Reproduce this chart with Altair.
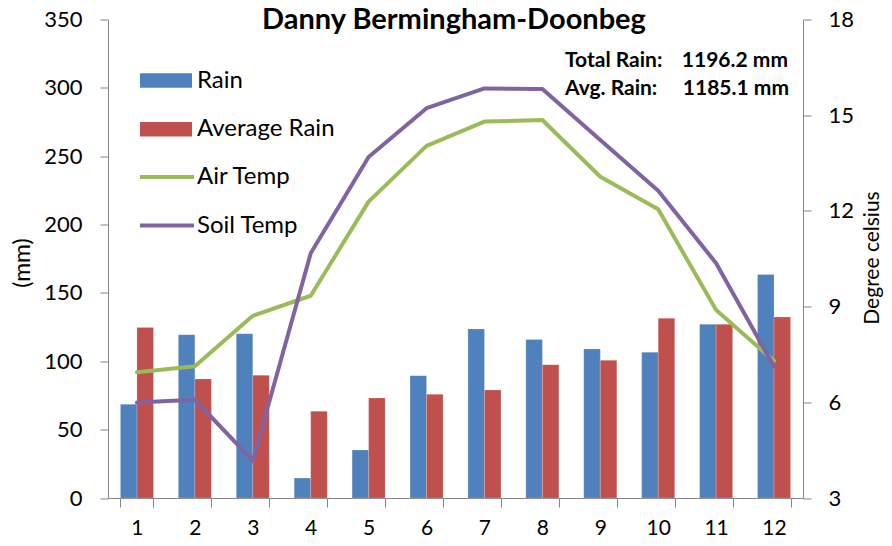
import altair as alt
import pandas as pd

months = list(range(1, 13))
rain = [68.5, 119.5, 120.2, 14.6, 35.1, 89.5, 123.6, 116.0, 109.0, 106.6, 127.0, 163.4]
avg_rain = [124.8, 87.0, 89.7, 63.4, 73.2, 75.8, 79.0, 97.5, 100.7, 131.4, 127.0, 132.4]
air_temp = [6.94, 7.13, 8.71, 9.34, 12.29, 14.04, 14.8, 14.85, 13.07, 12.05, 8.89, 7.3]
soil_temp = [5.99, 6.08, 4.17, 10.67, 13.69, 15.22, 15.84, 15.82, 14.22, 12.63, 10.36, 7.12]

bar_series = ["Rain", "Average Rain"]
bar_colors = ["#4F81BD", "#C0504D"]
line_series = ["Air Temp", "Soil Temp"]
line_colors = ["#9BBB59", "#8064A2"]

title_text = "Danny Bermingham-Doonbeg"
total_label, total_value = "Total Rain:", "1196.2 mm"
avg_label, avg_value = "Avg. Rain:", "1185.1 mm"

FONT = "Lato"
AX = "#868686"

bars_df = pd.DataFrame({
    "month": months * 2,
    "series": ["Rain"] * 12 + ["Average Rain"] * 12,
    "value": rain + avg_rain,
})
lines_df = pd.DataFrame({
    "month": months * 2,
    "series": ["Air Temp"] * 12 + ["Soil Temp"] * 12,
    "temp": air_temp + soil_temp,
})

x_enc = alt.X(
    "month:O",
    scale=alt.Scale(paddingInner=0.43, paddingOuter=0.215),
    axis=alt.Axis(
        title=None, labelAngle=0, tickBand="extent", labelFontSize=21, labelFont=FONT,
        labelColor="#000", domainColor=AX, tickColor=AX, tickSize=9, labelPadding=10,
        grid=False,
    ),
)

bars = alt.Chart(bars_df).mark_bar(stroke="white", strokeWidth=0.3, strokeOpacity=0.6).encode(
    x=x_enc,
    xOffset=alt.XOffset("series:N", sort=bar_series, scale=alt.Scale(paddingInner=0, paddingOuter=0)),
    y=alt.Y(
        "value:Q",
        scale=alt.Scale(domain=[0, 350], nice=False),
        axis=alt.Axis(
            title="(mm)", values=list(range(0, 351, 50)), grid=False,
            labelFontSize=22, labelFont=FONT, labelColor="#000", labelPadding=18,
            tickSize=8, domainColor=AX, tickColor=AX,
            titleFont=FONT, titleFontSize=23, titleFontWeight="normal", titleColor="#000",
            titleX=-86, titleY=243, titleAlign="center", titleBaseline="middle",
        ),
    ),
    color=alt.Color(
        "series:N",
        sort=bar_series,
        scale=alt.Scale(domain=bar_series, range=bar_colors),
        legend=alt.Legend(
            title=None, orient="none", legendX=32, legendY=35, direction="vertical",
            symbolType="M-1,-0.28H1V0.28H-1Z", symbolSize=2704, symbolStrokeWidth=0,
            labelFont=FONT, labelFontSize=24, labelColor="#000", labelOffset=5,
            rowPadding=10.8, symbolOpacity=1,
        ),
    ),
)

lines = alt.Chart(lines_df).mark_line(strokeWidth=4, strokeCap="round", strokeJoin="round").encode(
    x=alt.X("month:O"),
    y=alt.Y(
        "temp:Q",
        scale=alt.Scale(domain=[3, 18], nice=False),
        axis=alt.Axis(
            orient="right", title="Degree celsius", values=[3, 6, 9, 12, 15, 18], grid=False,
            labelFontSize=22, labelFont=FONT, labelColor="#000", labelPadding=17,
            tickSize=8, domainColor=AX, tickColor=AX,
            titleFont=FONT, titleFontSize=21, titleFontWeight="normal", titleColor="#000",
            titleAngle=270, titleX=69, titleY=238, titleAlign="center", titleBaseline="middle",
        ),
    ),
    stroke=alt.Stroke(
        "series:N",
        sort=line_series,
        scale=alt.Scale(domain=line_series, range=line_colors),
        legend=alt.Legend(
            title=None, orient="none", legendX=30, legendY=128.5, direction="vertical",
            symbolType="stroke", symbolSize=2916, symbolStrokeWidth=4,
            labelFont=FONT, labelFontSize=24, labelColor="#000", labelOffset=1,
            rowPadding=7.5,
        ),
    ),
)

def note(txt, x, y, align, size=21, weight="bold"):
    return alt.Chart(pd.DataFrame({"t": [txt]})).mark_text(
        font=FONT, fontSize=size, fontWeight=weight, color="#000", align=align, baseline="alphabetic"
    ).encode(text="t:N", x=alt.value(x), y=alt.value(y))

notes = (
    note(total_label, 457, 47, "left")
    + note(total_value, 680, 47, "right")
    + note(avg_label, 457, 75.5, "left")
    + note(avg_value, 681, 75.5, "right")
    + note(title_text, 346, 9.8, "center", size=29)
)

chart = (
    alt.layer(bars, lines, notes)
    .resolve_scale(y="independent", color="independent")
    .properties(
        width=695,
        height=478.5,
        autosize=alt.AutoSizeParams(type="none"),
        padding={"left": 100, "top": 11.5, "right": 81, "bottom": 40},
    )
    .configure_view(stroke=None)
    .configure_axis(domainWidth=1, tickWidth=1)
)

chart.save("out.html", embed_options={"renderer": "svg", "actions": False})
